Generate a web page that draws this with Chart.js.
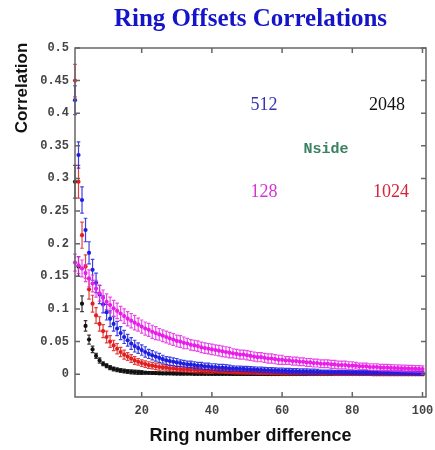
<!DOCTYPE html>
<html lang="en">
<head>
  <meta charset="UTF-8">
  <title>Ring Offsets Correlations</title>
  <script src="https://cdn.jsdelivr.net/npm/chart.js@4.4.1/dist/chart.umd.min.js"></script>
  <style>
    html, body { margin: 0; padding: 0; background: #fff; }
    #wrap { width: 435px; height: 450px; position: relative; }
  </style>
</head>
<body>
  <div id="wrap"><canvas id="myChart"></canvas></div>
  <script>
    // ring number difference (x)
    var ringDiff = [1, 2, 3, 4, 5, 6, 7, 8, 9, 10, 11, 12, 13, 14, 15, 16, 17, 18, 19, 20,
      21, 22, 23, 24, 25, 26, 27, 28, 29, 30, 31, 32, 33, 34, 35, 36, 37, 38, 39, 40,
      41, 42, 43, 44, 45, 46, 47, 48, 49, 50, 51, 52, 53, 54, 55, 56, 57, 58, 59, 60,
      61, 62, 63, 64, 65, 66, 67, 68, 69, 70, 71, 72, 73, 74, 75, 76, 77, 78, 79, 80,
      81, 82, 83, 84, 85, 86, 87, 88, 89, 90, 91, 92, 93, 94, 95, 96, 97, 98, 99, 100];

    // Nside 128 (magenta)
    var corr128 = [0.171, 0.167, 0.162, 0.155, 0.147, 0.139, 0.131, 0.124, 0.117, 0.111,
      0.106, 0.101, 0.097, 0.093, 0.089, 0.085, 0.082, 0.079, 0.076, 0.073,
      0.070, 0.068, 0.065, 0.063, 0.061, 0.059, 0.057, 0.055, 0.053, 0.051,
      0.050, 0.048, 0.047, 0.045, 0.044, 0.043, 0.041, 0.040, 0.039, 0.038,
      0.037, 0.036, 0.035, 0.034, 0.033, 0.032, 0.031, 0.030, 0.030, 0.029,
      0.028, 0.027, 0.026, 0.026, 0.025, 0.024, 0.024, 0.023, 0.022, 0.022,
      0.021, 0.021, 0.020, 0.020, 0.019, 0.019, 0.018, 0.018, 0.017, 0.017,
      0.016, 0.016, 0.016, 0.015, 0.015, 0.014, 0.014, 0.014, 0.013, 0.013,
      0.013, 0.012, 0.012, 0.012, 0.011, 0.011, 0.011, 0.010, 0.010, 0.010,
      0.0096, 0.0094, 0.0092, 0.0090, 0.0088, 0.0086, 0.0084, 0.0082, 0.0080, 0.0078];
    var err128 = [0.013, 0.013, 0.013, 0.013, 0.013, 0.013, 0.013, 0.012, 0.012, 0.012,
      0.012, 0.012, 0.012, 0.011, 0.011, 0.011, 0.011, 0.011, 0.010, 0.010,
      0.010, 0.010, 0.010, 0.010, 0.009, 0.009, 0.009, 0.009, 0.009, 0.009,
      0.009, 0.009, 0.008, 0.008, 0.008, 0.008, 0.008, 0.008, 0.008, 0.008,
      0.008, 0.008, 0.008, 0.008, 0.008, 0.007, 0.007, 0.007, 0.007, 0.007,
      0.007, 0.007, 0.007, 0.007, 0.007, 0.007, 0.007, 0.007, 0.007, 0.007,
      0.006, 0.006, 0.006, 0.006, 0.006, 0.006, 0.006, 0.006, 0.006, 0.006,
      0.006, 0.006, 0.006, 0.006, 0.006, 0.006, 0.006, 0.006, 0.006, 0.006,
      0.005, 0.005, 0.005, 0.005, 0.005, 0.005, 0.005, 0.005, 0.005, 0.005,
      0.005, 0.005, 0.005, 0.005, 0.005, 0.005, 0.005, 0.005, 0.005, 0.005];

    // Nside 512 (blue)
    var corr512 = [0.420, 0.336, 0.267, 0.221, 0.186, 0.160, 0.140, 0.122, 0.107, 0.095,
      0.085, 0.077, 0.070, 0.063, 0.057, 0.052, 0.047, 0.043, 0.040, 0.037,
      0.034, 0.031, 0.029, 0.027, 0.025, 0.023, 0.021, 0.020, 0.019, 0.018,
      0.017, 0.016, 0.015, 0.015, 0.014, 0.013, 0.013, 0.012, 0.012, 0.011,
      0.011, 0.010, 0.010, 0.0095, 0.0090, 0.0088, 0.0085, 0.0082, 0.0080, 0.0078,
      0.0075, 0.0072, 0.0070, 0.0067, 0.0064, 0.0062, 0.0060, 0.0057, 0.0054, 0.0052,
      0.0050, 0.0048, 0.0046, 0.0045, 0.0043, 0.0042, 0.0040, 0.0038, 0.0037, 0.0035,
      0.0034, 0.0033, 0.0032, 0.0031, 0.0030, 0.0029, 0.0028, 0.0027, 0.0026, 0.0025,
      0.0025, 0.0024, 0.0024, 0.0023, 0.0023, 0.0022, 0.0022, 0.0021, 0.0021, 0.0020,
      0.0020, 0.0020, 0.0019, 0.0019, 0.0018, 0.0018, 0.0017, 0.0016, 0.0016, 0.0015];
    var err512 = [0.022, 0.020, 0.020, 0.018, 0.017, 0.016, 0.015, 0.014, 0.013, 0.012,
      0.012, 0.011, 0.011, 0.010, 0.010, 0.009, 0.009, 0.009, 0.008, 0.008,
      0.008, 0.007, 0.007, 0.007, 0.007, 0.006, 0.006, 0.006, 0.006, 0.006,
      0.005, 0.005, 0.005, 0.005, 0.005, 0.005, 0.005, 0.005, 0.005, 0.005,
      0.005, 0.005, 0.005, 0.005, 0.005, 0.004, 0.004, 0.004, 0.004, 0.004,
      0.004, 0.004, 0.004, 0.004, 0.004, 0.004, 0.004, 0.004, 0.004, 0.004,
      0.004, 0.004, 0.004, 0.004, 0.004, 0.004, 0.004, 0.004, 0.004, 0.004,
      0.003, 0.003, 0.003, 0.003, 0.003, 0.003, 0.003, 0.003, 0.003, 0.003,
      0.003, 0.003, 0.003, 0.003, 0.003, 0.003, 0.003, 0.003, 0.003, 0.003,
      0.003, 0.003, 0.003, 0.003, 0.003, 0.003, 0.003, 0.003, 0.003, 0.003];

    // Nside 1024 (red)
    var corr1024 = [0.450, 0.295, 0.213, 0.165, 0.130, 0.108, 0.090, 0.077, 0.066, 0.057,
      0.050, 0.044, 0.039, 0.034, 0.030, 0.027, 0.024, 0.021, 0.019, 0.017,
      0.0155, 0.014, 0.013, 0.012, 0.011, 0.0105, 0.010, 0.009, 0.0085, 0.008,
      0.0077, 0.0073, 0.0070, 0.0067, 0.0064, 0.0060, 0.0058, 0.0055, 0.0052, 0.0050,
      0.0048, 0.0046, 0.0044, 0.0042, 0.0040, 0.0038, 0.0036, 0.0034, 0.0032, 0.0030,
      0.0030, 0.0029, 0.0028, 0.0027, 0.0026, 0.0025, 0.0024, 0.0023, 0.0022, 0.0020,
      0.0020, 0.0020, 0.0019, 0.0019, 0.0018, 0.0018, 0.0017, 0.0016, 0.0016, 0.0015,
      0.0015, 0.0015, 0.0014, 0.0014, 0.0013, 0.0013, 0.0012, 0.0012, 0.0011, 0.0011,
      0.0011, 0.0010, 0.0010, 0.0010, 0.0010, 0.0009, 0.0009, 0.0009, 0.0009, 0.0008,
      0.0008, 0.0008, 0.0008, 0.0008, 0.0007, 0.0007, 0.0007, 0.0007, 0.0007, 0.0006];
    var err1024 = [0.025, 0.025, 0.020, 0.018, 0.015, 0.013, 0.012, 0.011, 0.010, 0.009,
      0.009, 0.008, 0.008, 0.007, 0.007, 0.006, 0.006, 0.006, 0.005, 0.005,
      0.005, 0.005, 0.005, 0.005, 0.005, 0.004, 0.004, 0.004, 0.004, 0.004,
      0.004, 0.004, 0.004, 0.004, 0.004, 0.004, 0.004, 0.004, 0.004, 0.004,
      0.003, 0.003, 0.003, 0.003, 0.003, 0.003, 0.003, 0.003, 0.003, 0.003,
      0.003, 0.003, 0.003, 0.003, 0.003, 0.003, 0.003, 0.003, 0.003, 0.003,
      0.003, 0.003, 0.003, 0.003, 0.003, 0.003, 0.003, 0.003, 0.003, 0.003,
      0.003, 0.003, 0.003, 0.003, 0.003, 0.003, 0.003, 0.003, 0.003, 0.003,
      0.003, 0.003, 0.003, 0.003, 0.003, 0.003, 0.003, 0.003, 0.003, 0.003,
      0.003, 0.003, 0.003, 0.003, 0.003, 0.003, 0.003, 0.003, 0.003, 0.003];

    // Nside 2048 (black)
    var corr2048 = [0.295, 0.165, 0.108, 0.074, 0.053, 0.038, 0.028, 0.021, 0.016, 0.013,
      0.010, 0.008, 0.0067, 0.0056, 0.0048, 0.0041, 0.0036, 0.0032, 0.0028, 0.0025,
      0.0022, 0.0020, 0.0018, 0.0016, 0.0014, 0.0013, 0.0012, 0.0011, 0.0010, 0.0009,
      0.0008, 0.0008, 0.0007, 0.0007, 0.0006, 0.0006, 0.0005, 0.0005, 0.0005, 0.0004,
      0.0004, 0.0004, 0.0004, 0.0004, 0.0004, 0.0003, 0.0003, 0.0003, 0.0003, 0.0003,
      0.0003, 0.0003, 0.0003, 0.0003, 0.0003, 0.0002, 0.0002, 0.0002, 0.0002, 0.0002,
      0.0002, 0.0002, 0.0002, 0.0002, 0.0002, 0.0002, 0.0002, 0.0002, 0.0002, 0.0002,
      0.0002, 0.0002, 0.0001, 0.0001, 0.0001, 0.0001, 0.0001, 0.0001, 0.0001, 0.0001,
      0.0001, 0.0001, 0.0001, 0.0001, 0.0001, 0.0001, 0.0001, 0.0001, 0.0001, 0.0001,
      0.0001, 0.0001, 0.0001, 0.0001, 0.0001, 0.0001, 0.0001, 0.0001, 0.0001, 0.0001];
    var err2048 = [0.025, 0.015, 0.012, 0.008, 0.007, 0.005, 0.004, 0.004, 0.003, 0.003,
      0.003, 0.003, 0.003, 0.003, 0.003, 0.003, 0.003, 0.003, 0.003, 0.003,
      0.002, 0.002, 0.002, 0.002, 0.002, 0.002, 0.002, 0.002, 0.002, 0.002,
      0.002, 0.002, 0.002, 0.002, 0.002, 0.002, 0.002, 0.002, 0.002, 0.002,
      0.002, 0.002, 0.002, 0.002, 0.002, 0.002, 0.002, 0.002, 0.002, 0.002,
      0.002, 0.002, 0.002, 0.002, 0.002, 0.002, 0.002, 0.002, 0.002, 0.002,
      0.002, 0.002, 0.002, 0.002, 0.002, 0.002, 0.002, 0.002, 0.002, 0.002,
      0.002, 0.002, 0.002, 0.002, 0.002, 0.002, 0.002, 0.002, 0.002, 0.002,
      0.002, 0.002, 0.002, 0.002, 0.002, 0.002, 0.002, 0.002, 0.002, 0.002,
      0.002, 0.002, 0.002, 0.002, 0.002, 0.002, 0.002, 0.002, 0.002, 0.002];

    var xTicks = [20, 40, 60, 80, 100];
    var yTicks = [0, 0.05, 0.1, 0.15, 0.2, 0.25, 0.3, 0.35, 0.4, 0.45, 0.5];

    function points(vals) {
      return vals.map(function (v, i) { return { x: ringDiff[i], y: v }; });
    }

    function serie(label, vals, errs, color, barColor, order) {
      return {
        label: label,
        data: points(vals),
        errors: errs,
        barColor: barColor,
        backgroundColor: color,
        borderColor: color,
        borderWidth: 0,
        pointRadius: 2.1,
        pointHoverRadius: 2.1,
        showLine: false,
        clip: 6,
        order: order
      };
    }

    // error bars, drawn under each dataset's points
    var errorBars = {
      id: 'errorBars',
      beforeDatasetDraw: function (chart, args) {
        var ds = chart.data.datasets[args.index];
        var y = chart.scales.y;
        var ctx = chart.ctx;
        ctx.save();
        ctx.strokeStyle = ds.barColor;
        ctx.lineWidth = 1.2;
        ctx.beginPath();
        args.meta.data.forEach(function (pt, i) {
          var v = ds.data[i].y, e = ds.errors[i];
          var top = y.getPixelForValue(v + e), bot = y.getPixelForValue(v - e);
          ctx.moveTo(pt.x, top); ctx.lineTo(pt.x, bot);
          ctx.moveTo(pt.x - 1.8, top); ctx.lineTo(pt.x + 1.8, top);
          ctx.moveTo(pt.x - 1.8, bot); ctx.lineTo(pt.x + 1.8, bot);
        });
        ctx.stroke();
        ctx.restore();
      }
    };

    // frame with inward ticks, y title and the Nside labels
    var frame = {
      id: 'frame',
      afterDraw: function (chart) {
        var ctx = chart.ctx, a = chart.chartArea;
        var x = chart.scales.x, y = chart.scales.y;
        ctx.save();
        ctx.strokeStyle = '#666';
        ctx.lineWidth = 1.5;
        ctx.strokeRect(a.left, a.top, a.right - a.left, a.bottom - a.top);
        ctx.beginPath();
        xTicks.forEach(function (t) {
          var px = x.getPixelForValue(t);
          ctx.moveTo(px, a.bottom); ctx.lineTo(px, a.bottom - 5);
          ctx.moveTo(px, a.top); ctx.lineTo(px, a.top + 5);
        });
        yTicks.forEach(function (t) {
          var py = y.getPixelForValue(t);
          ctx.moveTo(a.left, py); ctx.lineTo(a.left + 5, py);
          ctx.moveTo(a.right, py); ctx.lineTo(a.right - 5, py);
        });
        ctx.stroke();

        ctx.fillStyle = '#111';
        ctx.font = 'bold 17px "Liberation Sans", Arial, sans-serif';
        ctx.textAlign = 'center';
        ctx.textBaseline = 'middle';
        ctx.translate(22, 88);
        ctx.rotate(-Math.PI / 2);
        ctx.fillText('Correlation', 0, 0);
        ctx.setTransform(1, 0, 0, 1, 0, 0);

        ctx.font = '18px "Liberation Serif", "Times New Roman", serif';
        ctx.fillStyle = '#3434b4'; ctx.fillText('512', 264, 105);
        ctx.fillStyle = '#111'; ctx.fillText('2048', 387, 105);
        ctx.fillStyle = '#d633d6'; ctx.fillText('128', 264, 192);
        ctx.fillStyle = '#d4243c'; ctx.fillText('1024', 391, 192);
        ctx.font = 'bold 15px "Liberation Mono", "Courier New", monospace';
        ctx.fillStyle = '#3a8062'; ctx.fillText('Nside', 326, 149);
        ctx.restore();
      }
    };

    var tickFont = { family: '"Liberation Mono", "Courier New", monospace', size: 12, weight: 'bold' };

    var ctx = document.getElementById('myChart').getContext('2d');
    var chart = new Chart(ctx, {
      type: 'scatter',
      data: {
        datasets: [
          serie('128', corr128, err128, '#e81ee8', 'rgba(232,40,232,0.85)', 1),
          serie('512', corr512, err512, '#1e1ee0', 'rgba(30,30,224,0.85)', 2),
          serie('1024', corr1024, err1024, '#e01e1e', 'rgba(224,30,30,0.85)', 3),
          serie('2048', corr2048, err2048, '#111111', 'rgba(17,17,17,0.85)', 4)
        ]
      },
      options: {
        responsive: true,
        maintainAspectRatio: false,
        animation: false,
        layout: { padding: { top: 0, right: 9, bottom: 0, left: 0 } },
        plugins: {
          legend: { display: false },
          tooltip: { enabled: false },
          title: {
            display: true,
            fullSize: false,
            text: 'Ring Offsets Correlations',
            color: '#1414c8',
            font: { family: '"Liberation Serif", "Times New Roman", serif', size: 25, weight: 'bold' },
            padding: { top: 5, bottom: 13 }
          }
        },
        scales: {
          x: {
            type: 'linear',
            min: 1,
            max: 101,
            grid: { display: false, drawTicks: false },
            border: { display: false },
            afterBuildTicks: function (s) { s.ticks = xTicks.map(function (v) { return { value: v }; }); },
            afterFit: function (s) { s.height = 53; s.paddingLeft = 0; s.paddingRight = 0; },
            ticks: { font: tickFont, color: '#444', padding: 7, maxRotation: 0,
              callback: function (v) { return String(v); } },
            title: {
              display: true,
              text: 'Ring number difference',
              color: '#111',
              font: { family: '"Liberation Sans", Arial, sans-serif', size: 18, weight: 'bold' },
              padding: { top: 0, bottom: 3 }
            }
          },
          y: {
            min: -0.035,
            max: 0.5,
            grid: { display: false, drawTicks: false },
            border: { display: false },
            afterBuildTicks: function (s) { s.ticks = yTicks.map(function (v) { return { value: v }; }); },
            afterFit: function (s) { s.width = 75; s.paddingTop = 0; s.paddingBottom = 0; },
            ticks: { font: tickFont, color: '#444', padding: 6,
              callback: function (v) { return String(v); } }
          }
        }
      },
      plugins: [errorBars, frame]
    });
  </script>
</body>
</html>
